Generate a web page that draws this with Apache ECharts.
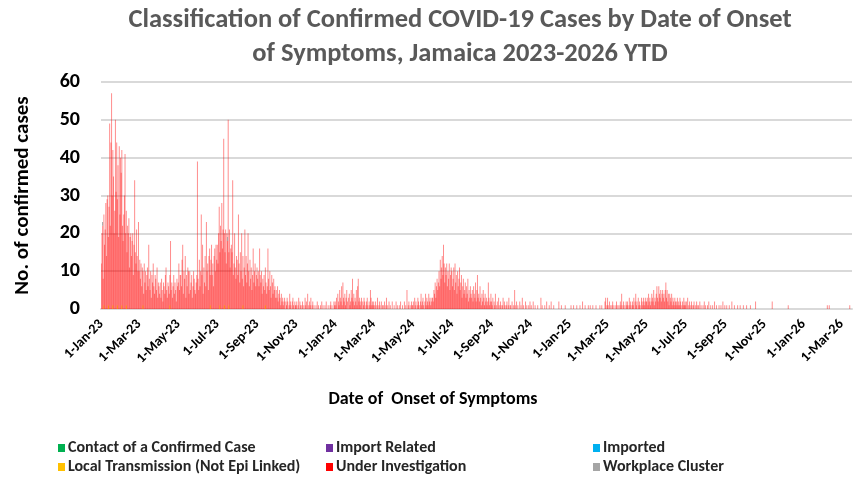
<!DOCTYPE html>
<html>
<head>
<meta charset="utf-8">
<script src="https://cdn.jsdelivr.net/npm/echarts@6/dist/echarts.min.js"></script>
<style>
  html, body { margin: 0; padding: 0; background: #fff; }
  #chart { width: 859px; height: 480px; }
</style>
</head>
<body>
<div id="chart"></div>
<script>
// daily confirmed cases "Under Investigation", one array per month (day 1..n)
const ui2023 = [
  [12, 20, 22, 8, 24, 17, 21, 28, 14, 29, 30, 18, 27, 49, 22, 44, 57, 30, 41, 35, 20, 26, 50, 31, 44, 28, 38, 19, 43, 25, 40],
  [36, 41, 22, 18, 25, 30, 41, 20, 25, 15, 22, 20, 24, 11, 19, 20, 14, 18, 20, 9, 17, 34, 15, 12, 21, 14, 10, 23],
  [10, 13, 8, 12, 6, 11, 9, 4, 12, 7, 10, 5, 9, 11, 6, 17, 8, 5, 10, 3, 9, 7, 12, 6, 4, 9, 8, 5, 11, 3, 7],
  [6, 4, 7, 3, 8, 5, 2, 7, 6, 4, 9, 11, 5, 3, 7, 6, 4, 8, 18, 5, 7, 3, 6, 9, 4, 7, 5, 2, 8, 6],
  [7, 12, 5, 9, 9, 6, 13, 17, 4, 10, 8, 14, 3, 9, 6, 11, 10, 4, 10, 5, 7, 9, 3, 6, 10, 8, 5, 4, 7, 9, 39],
  [8, 5, 13, 6, 10, 25, 9, 17, 4, 11, 7, 14, 6, 23, 10, 12, 5, 14, 16, 8, 13, 17, 9, 12, 6, 14, 16, 10, 17, 13],
  [17, 12, 20, 27, 14, 22, 18, 28, 16, 21, 45, 19, 15, 21, 12, 20, 18, 50, 14, 21, 11, 16, 17, 15, 34, 9, 12, 20, 11, 8, 14],
  [13, 9, 25, 12, 7, 15, 10, 20, 8, 13, 6, 11, 21, 9, 14, 7, 12, 20, 10, 6, 13, 8, 11, 5, 9, 16, 7, 10, 12, 6, 9],
  [11, 8, 10, 6, 16, 9, 7, 10, 4, 8, 6, 9, 5, 10, 7, 4, 6, 16, 8, 5, 10, 6, 3, 9, 7, 4, 8, 5, 6, 3],
  [5, 3, 6, 2, 4, 5, 3, 1, 4, 2, 3, 1, 2, 3, 0, 2, 1, 3, 2, 0, 1, 4, 2, 1, 0, 2, 3, 1, 0, 2, 1],
  [1, 2, 0, 1, 3, 0, 2, 1, 0, 1, 2, 0, 1, 0, 3, 1, 2, 0, 4, 1, 0, 2, 1, 3, 0, 1, 2, 0, 1, 0],
  [0, 1, 0, 2, 0, 1, 0, 0, 1, 0, 2, 0, 1, 0, 0, 1, 0, 2, 0, 0, 1, 0, 0, 1, 2, 0, 1, 0, 0, 2, 1]
]
const ui2024 = [
  [2, 1, 3, 0, 4, 2, 1, 5, 3, 2, 6, 1, 7, 3, 2, 4, 1, 3, 5, 2, 0, 3, 4, 1, 2, 5, 3, 8, 2, 4, 1],
  [3, 2, 5, 1, 6, 8, 2, 3, 1, 2, 3, 0, 2, 1, 3, 2, 0, 1, 2, 3, 1, 0, 2, 1, 5, 3, 1, 2, 1],
  [2, 1, 0, 2, 1, 0, 3, 1, 0, 2, 1, 0, 2, 0, 1, 1, 0, 2, 0, 1, 3, 0, 1, 0, 2, 0, 1, 0, 0, 2, 0],
  [0, 1, 0, 0, 2, 0, 1, 0, 0, 1, 0, 2, 0, 0, 1, 0, 0, 2, 0, 1, 0, 5, 0, 1, 2, 0, 1, 0, 2, 1],
  [1, 2, 0, 3, 1, 2, 0, 1, 3, 2, 1, 0, 2, 4, 1, 2, 3, 1, 0, 2, 4, 1, 3, 2, 1, 4, 2, 3, 1, 2, 3],
  [3, 2, 5, 4, 7, 3, 6, 8, 5, 7, 10, 6, 13, 8, 11, 14, 9, 17, 12, 7, 11, 9, 12, 6, 10, 8, 12, 5, 9, 11],
  [10, 6, 8, 11, 5, 12, 7, 9, 4, 10, 6, 8, 11, 5, 7, 9, 3, 6, 8, 4, 5, 7, 3, 6, 4, 8, 2, 5, 3, 6, 4],
  [3, 5, 2, 6, 4, 3, 7, 2, 5, 9, 3, 4, 2, 6, 3, 1, 4, 2, 5, 3, 1, 4, 2, 3, 1, 2, 7, 3, 1, 2, 4],
  [2, 1, 3, 0, 2, 1, 4, 0, 1, 2, 0, 3, 1, 0, 2, 1, 0, 1, 3, 0, 2, 1, 0, 1, 2, 0, 1, 3, 0, 1],
  [1, 0, 2, 0, 1, 0, 5, 1, 0, 2, 0, 1, 0, 0, 2, 0, 1, 0, 3, 0, 1, 0, 0, 2, 0, 1, 0, 0, 1, 0, 2],
  [0, 1, 0, 0, 2, 0, 0, 1, 0, 0, 0, 1, 0, 0, 0, 0, 3, 0, 1, 0, 0, 0, 1, 0, 0, 2, 0, 0, 0, 1],
  [0, 0, 2, 0, 0, 0, 1, 0, 0, 0, 0, 0, 0, 0, 2, 0, 0, 0, 1, 0, 0, 0, 0, 0, 1, 0, 0, 0, 0, 0, 0]
]
const ui2025 = [
  [0, 0, 1, 0, 0, 0, 1, 0, 0, 0, 0, 1, 0, 0, 0, 0, 1, 0, 0, 0, 2, 0, 0, 0, 1, 0, 0, 0, 0, 1, 0],
  [0, 1, 0, 0, 0, 1, 0, 0, 0, 0, 1, 0, 0, 0, 0, 0, 1, 0, 0, 1, 0, 0, 0, 0, 2, 3, 0, 1],
  [3, 1, 0, 2, 0, 1, 0, 1, 2, 0, 1, 0, 0, 1, 2, 0, 1, 0, 1, 0, 2, 1, 4, 0, 1, 2, 0, 1, 0, 2, 1],
  [2, 1, 0, 3, 1, 2, 0, 1, 2, 1, 3, 0, 2, 4, 1, 2, 0, 3, 1, 2, 1, 0, 3, 2, 1, 3, 2, 1, 3, 2],
  [2, 3, 1, 4, 2, 3, 1, 2, 4, 3, 2, 5, 1, 3, 2, 4, 6, 3, 2, 6, 4, 3, 5, 2, 4, 5, 3, 4, 2, 5, 7],
  [3, 5, 2, 4, 1, 4, 3, 2, 4, 1, 3, 2, 1, 3, 2, 1, 2, 3, 1, 2, 1, 3, 2, 1, 0, 2, 1, 3, 1, 2],
  [1, 2, 0, 3, 1, 0, 2, 1, 0, 2, 1, 0, 1, 2, 0, 1, 0, 2, 1, 0, 1, 0, 2, 0, 1, 0, 0, 1, 0, 2, 0],
  [1, 0, 0, 1, 0, 2, 0, 0, 1, 0, 0, 1, 0, 0, 2, 0, 0, 1, 0, 0, 0, 1, 0, 0, 1, 0, 0, 2, 0, 0, 1],
  [0, 0, 1, 0, 0, 0, 1, 0, 0, 0, 2, 0, 0, 0, 1, 0, 0, 0, 0, 1, 0, 0, 0, 1, 0, 0, 0, 0, 1, 0],
  [0, 0, 0, 1, 0, 0, 0, 0, 0, 1, 0, 0, 0, 0, 0, 0, 0, 2, 0, 0, 0, 0, 0, 0, 0, 0, 0, 0, 0, 0, 0],
  [0, 0, 0, 0, 0, 0, 0, 0, 0, 0, 0, 0, 2, 0, 0, 0, 0, 0, 0, 0, 0, 0, 0, 0, 0, 0, 0, 0, 0, 0],
  [0, 0, 0, 0, 0, 0, 0, 1, 0, 0, 0, 0, 0, 0, 0, 0, 0, 0, 0, 0, 0, 0, 0, 0, 0, 0, 0, 0, 0, 0, 0]
]
const ui2026 = [
  [0, 0, 0, 0, 0, 0, 0, 0, 0, 0, 0, 0, 0, 0, 0, 0, 0, 0, 0, 0, 0, 0, 0, 0, 0, 0, 0, 0, 0, 0, 0],
  [0, 0, 0, 0, 0, 0, 1, 0, 0, 1, 0, 0, 0, 0, 0, 0, 0, 0, 0, 0, 0, 0, 0, 0, 0, 0, 0, 0],
  [0, 0, 0, 0, 0, 0, 0, 0, 0, 0, 0, 0, 0, 1, 0, 0, 0]
]
// the few cases in the other classes
const localDays = ['2023-01-05', '2023-01-12', '2023-01-19', '2023-01-26', '2023-02-02', '2023-02-09', '2023-03-07', '2023-04-18', '2023-06-20', '2023-07-05', '2023-07-12', '2023-07-19', '2023-08-10', '2023-09-14']
const clusterDays = ['2023-01-03', '2023-07-17']

const classNames = ['Contact of a Confirmed Case', 'Import Related', 'Imported', 'Local Transmission (Not Epi Linked)', 'Under Investigation', 'Workplace Cluster']
const classColors = ['#00B050', '#7030A0', '#00B0F0', '#FFC000', '#FF0000', '#A5A5A5']
const monthNames = ['Jan', 'Feb', 'Mar', 'Apr', 'May', 'Jun', 'Jul', 'Aug', 'Sep', 'Oct', 'Nov', 'Dec']

const FONT = 'Carlito, Lato, "Open Sans", sans-serif'

// build the category list of days and the values
let days = []
let uiValues = []
const years = [[2023, ui2023], [2024, ui2024], [2025, ui2025], [2026, ui2026]]
years.forEach(([year, months]) => {
  months.forEach((vals, m) => {
    vals.forEach((v, i) => {
      days.push(year + '-' + String(m + 1).padStart(2, '0') + '-' + String(i + 1).padStart(2, '0'))
      uiValues.push(v)
    })
  })
})
const fromDays = (list) => days.map((d) => (list.indexOf(d) >= 0 ? 1 : null))
const empty = days.map(() => null)
const classValues = [empty, empty, empty, fromDays(localDays), uiValues, fromDays(clusterDays)]

const chart = echarts.init(document.getElementById('chart'))
let option = {
  animation: false,
  title: {
    text: 'Classification of Confirmed COVID-19 Cases by Date of Onset\nof Symptoms, Jamaica 2023-2026 YTD',
    left: 455,
    top: -2,
    textAlign: 'center',
    textStyle: {
      fontFamily: FONT,
      fontSize: 26.5,
      fontWeight: 'bold',
      color: '#595959',
      lineHeight: 34,
    },
  },
  grid: { left: 101, right: 7, top: 82, bottom: 171 },
  legend: [0, 1, 2].map((c) => ({
    orient: 'vertical',
    left: [58, 326, 593][c],
    top: 440,
    padding: 0,
    itemWidth: 7,
    itemHeight: 8,
    itemGap: 3,
    icon: 'rect',
    data: [classNames[c], classNames[c + 3]].map((n) => ({ name: n, itemStyle: { opacity: 1 } })),
    textStyle: { fontFamily: FONT, fontSize: 16, fontWeight: 'bold', color: '#262626', lineHeight: 16, padding: [0, 0, 0, -2] },
  })),
  xAxis: {
    type: 'category',
    data: days,
    boundaryGap: true,
    axisLine: { lineStyle: { color: '#D9D9D9', width: 2 } },
    axisTick: { show: false },
    axisLabel: {
      interval: (idx, val) => val.slice(8) === '01' && Number(val.slice(5, 7)) % 2 === 1,
      rotate: 45,
      margin: 13,
      fontFamily: FONT,
      fontSize: 14,
      fontWeight: 'bold',
      color: '#000',
      formatter: (val) => Number(val.slice(8)) + '-' + monthNames[Number(val.slice(5, 7)) - 1] + '-' + val.slice(2, 4),
    },
  },
  yAxis: {
    type: 'value',
    min: 0,
    max: 60,
    interval: 10,
    name: 'No. of confirmed cases',
    nameLocation: 'middle',
    nameGap: 68,
    nameTextStyle: { fontFamily: FONT, fontSize: 21, fontWeight: 'bold', color: '#000' },
    axisLine: { show: false },
    axisTick: { show: false },
    axisLabel: { margin: 21, fontFamily: FONT, fontSize: 20, fontWeight: 'bold', color: '#000' },
    splitLine: { lineStyle: { color: '#D9D9D9', width: 2 } },
  },
  graphic: [
    {
      type: 'text',
      x: 433,
      y: 399,
      style: {
        text: 'Date of  Onset of Symptoms',
        fontFamily: FONT,
        fontSize: 18,
        fontWeight: 'bold',
        fill: '#000',
        textAlign: 'center',
        textVerticalAlign: 'middle',
      },
    },
  ],
  series: classNames.map((name, i) => ({
    name: name,
    type: 'bar',
    stack: 'cases',
    barCategoryGap: '0%',
    barMinWidth: 1,
    itemStyle: { color: classColors[i], opacity: i === 4 ? 0.45 : 1, borderWidth: 0 },
    data: classValues[i],
  })),
}
chart.setOption(option)
</script>
</body>
</html>
